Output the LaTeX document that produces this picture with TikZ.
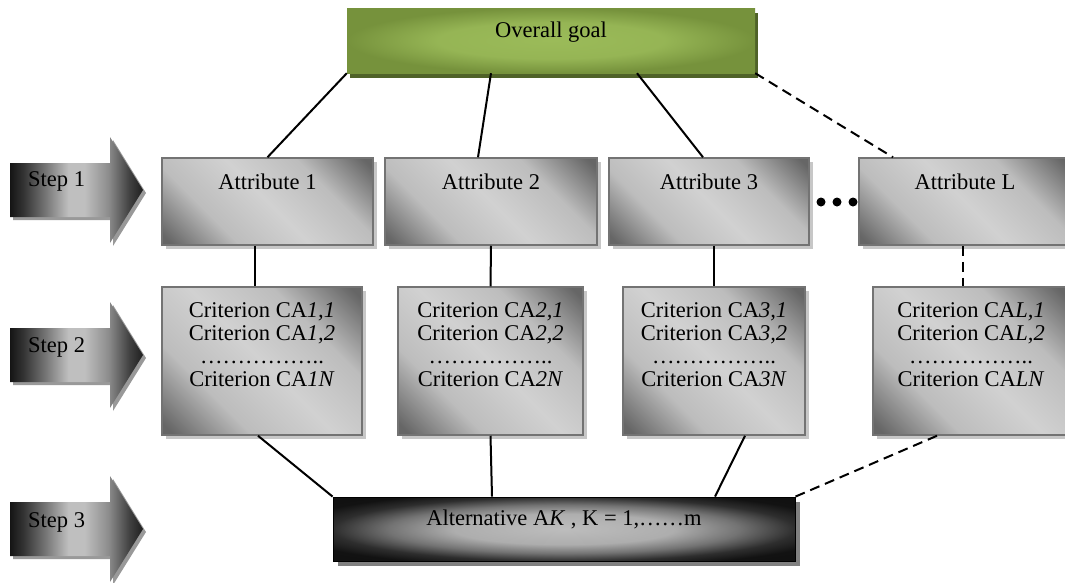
\documentclass[tikz,border=0pt]{standalone}
\usepackage{fontspec}
\setmainfont{Liberation Serif}
\usetikzlibrary{shadows}
\definecolor{goalin}{HTML}{9BBB59}
\definecolor{goalout}{HTML}{76923C}
\definecolor{goalsh}{HTML}{4F6228}
\pgfdeclarehorizontalshading{boxshade}{100bp}{color(0bp)=(black!62); color(17bp)=(black!60); color(33bp)=(black!26); color(50bp)=(black!18); color(67bp)=(black!26); color(83bp)=(black!60); color(100bp)=(black!62)}
\pgfdeclareradialshading{altshade}{\pgfpoint{0bp}{0bp}}{color(0bp)=(black!26); color(12bp)=(black!32); color(19bp)=(black!55); color(25bp)=(black!82); color(30bp)=(black!93); color(50bp)=(black!95)}
\pgfdeclareradialshading{goalshade}{\pgfpoint{0bp}{0bp}}{color(0bp)=(goalin); color(14bp)=(goalin!85!goalout); color(25bp)=(goalout); color(50bp)=(goalout)}
\pgfdeclarehorizontalshading{arrowshade}{100bp}{color(0bp)=(black!92); color(25bp)=(black!92); color(30bp)=(black!80); color(38bp)=(black!55); color(47bp)=(black!25); color(53bp)=(black!25); color(62bp)=(black!45); color(70bp)=(black!75); color(75bp)=(black!88); color(100bp)=(black!88)}
\begin{document}
\begin{tikzpicture}[x=1pt,y=-1pt,
  txt/.style={font=\fontsize{22.5}{23}\selectfont, inner sep=0pt, align=center, text=black},
  graybox/.style={draw=black!55, line width=1.5pt, shading=boxshade, shading angle=45, inner sep=0pt,
    drop shadow={shadow xshift=4pt, shadow yshift=-4pt, fill=black!22, opacity=1}},
  goalbox/.style={shading=goalshade, inner sep=0pt,
    drop shadow={shadow xshift=3pt, shadow yshift=-5pt, fill=goalsh, opacity=1}},
  altbox/.style={draw=black, line width=0.8pt, shading=altshade, inner sep=0pt,
    drop shadow={shadow xshift=5pt, shadow yshift=-5pt, fill=black!50, opacity=1}},
  steparrow/.style={shading=arrowshade,
    drop shadow={shadow xshift=3pt, shadow yshift=-3pt, fill=black!40, opacity=1}},
  conn/.style={line width=2pt, draw=black},
  dconn/.style={conn, dash pattern=on 10pt off 6pt}
]
\useasboundingbox (0,0) rectangle (1065,582);

% step arrows
\path[steparrow] (10,163) -- (110,163) -- (110,137) -- (143,190) -- (110,243) -- (110,217) -- (10,217) -- cycle;
\path[steparrow] (10,328) -- (110,328) -- (110,302) -- (143,355) -- (110,408) -- (110,382) -- (10,382) -- cycle;
\path[steparrow] (10,502) -- (110,502) -- (110,476) -- (143,529) -- (110,582) -- (110,556) -- (10,556) -- cycle;
\node[txt, anchor=base west] (s1) at (28,186) {Step 1};
\node[txt, anchor=base west] (s2) at (28,352) {Step 2};
\node[txt, anchor=base west] (s3) at (28,527) {Step 3};

% goal
\node[goalbox, minimum width=408pt, minimum height=65pt] (goal) at (551,40.5) {};
\node[txt, anchor=base] (goalt) at (551,37) {Overall goal};

% attributes
\node[graybox, minimum width=211pt, minimum height=87pt] (a1) at (267.5,201.5) {};
\node[graybox, minimum width=212pt, minimum height=87pt] (a2) at (491,201.5) {};
\node[graybox, minimum width=200pt, minimum height=87pt] (a3) at (709,201.5) {};
\node[graybox, minimum width=212pt, minimum height=87pt] (aL) at (965,201.5) {};
\node[txt, anchor=base] (a1t) at (267.5,189) {Attribute 1};
\node[txt, anchor=base] (a2t) at (491,189) {Attribute 2};
\node[txt, anchor=base] (a3t) at (709,189) {Attribute 3};
\node[txt, anchor=base] (aLt) at (965,189) {Attribute L};

\fill (821,202) circle (4.5pt);
\fill (837,202) circle (4.5pt);
\fill (853,202) circle (4.5pt);

% criteria
\node[graybox, minimum width=200pt, minimum height=148pt] (c1) at (262,361) {};
\node[graybox, minimum width=185pt, minimum height=148pt] (c2) at (490.5,361) {};
\node[graybox, minimum width=182pt, minimum height=148pt] (c3) at (714,361) {};
\node[graybox, minimum width=196pt, minimum height=148pt] (cL) at (971,361) {};
\node[txt, anchor=north] (c1t) at (262,302) {Criterion CA\textit{1,1}\\Criterion CA\textit{1,2}\\……………..\\Criterion CA\textit{1N}};
\node[txt, anchor=north] (c2t) at (490.5,302) {Criterion CA\textit{2,1}\\Criterion CA\textit{2,2}\\……………..\\Criterion CA\textit{2N}};
\node[txt, anchor=north] (c3t) at (714,302) {Criterion CA\textit{3,1}\\Criterion CA\textit{3,2}\\……………..\\Criterion CA\textit{3N}};
\node[txt, anchor=north] (cLt) at (971,302) {Criterion CA\textit{L,1}\\Criterion CA\textit{L,2}\\……………..\\Criterion CA\textit{LN}};

% alternative
\node[altbox, minimum width=462pt, minimum height=64pt] (alt) at (564,529) {};
\node[txt, anchor=base] (altt) at (564,525) {Alternative A\textit{K} , K = 1,……m};

% connectors
\draw[conn] (goal.south west) -- (a1.north);
\draw[conn] ([xshift=-60pt]goal.south) -- ([xshift=-13pt]a2.north);
\draw[conn] ([xshift=86pt]goal.south) -- ([xshift=-6pt]a3.north);
\draw[dconn] (goal.south east) -- ([xshift=-72pt]aL.north);

\draw[conn] ([xshift=-12.5pt]a1.south) -- ([xshift=-7pt]c1.north);
\draw[conn] (a2.south) -- (c2.north);
\draw[conn] ([xshift=5pt]a3.south) -- (c3.north);
\draw[dconn] ([xshift=-2pt]aL.south) -- ([xshift=-8pt]cL.north);

\draw[conn] ([xshift=-4pt]c1.south) -- (alt.north west);
\draw[conn] (c2.south) -- ([xshift=-72pt]alt.north);
\draw[conn] ([xshift=31pt]c3.south) -- ([xshift=151pt]alt.north);
\draw[dconn] ([xshift=-34pt]cL.south) -- (alt.north east);
\end{tikzpicture}
\end{document}
